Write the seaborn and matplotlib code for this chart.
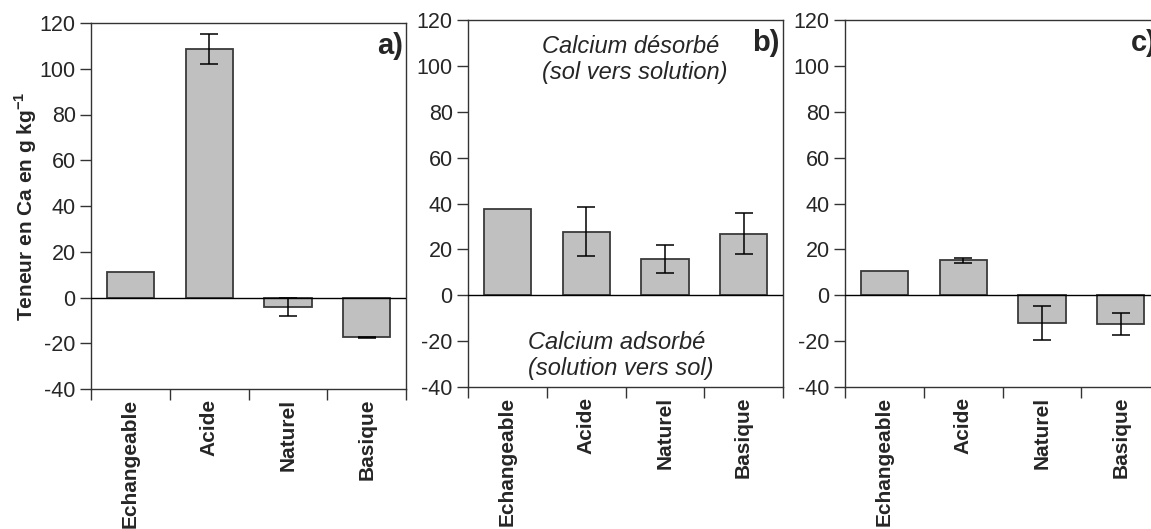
import numpy as np
import pandas as pd
import matplotlib
matplotlib.use("Agg")
import matplotlib.pyplot as plt
import seaborn as sns

categories = ["Echangeable", "Acide", "Naturel", "Basique"]
values_a = [11.0, 108.6, -4.0, -17.4]
errors_a = [0.0, 6.5, 4.0, 0.3]
values_b = [37.8, 27.6, 15.8, 26.9]
errors_b = [0.0, 10.7, 6.0, 8.8]
values_c = [10.5, 15.2, -12.1, -12.6]
errors_c = [0.0, 1.2, 7.5, 4.8]
panel_labels = ["a)", "b)", "c)"]
yticks = [-40, -20, 0, 20, 40, 60, 80, 100, 120]
ylabel = "Teneur en Ca en g kg$^{\\mathbf{-1}}$"
note_top = "Calcium désorbé\n(sol vers solution)"
note_bottom = "Calcium adsorbé\n(solution vers sol)"

sns.set_style("ticks")
plt.rcParams["font.family"] = ["Liberation Sans", "DejaVu Sans"]
plt.rcParams["mathtext.fontset"] = "custom"
plt.rcParams["mathtext.rm"] = "Liberation Sans"
plt.rcParams["mathtext.bf"] = "Liberation Sans:bold"

fig = plt.figure(figsize=(11.51, 5.29), dpi=100)
W, H = 1151.0, 529.0
positions = [
    (91 / W, 1 - 389 / H, 315 / W, 366 / H),
    (468 / W, 1 - 387 / H, 315 / W, 367 / H),
    (845 / W, 1 - 387 / H, 315 / W, 367 / H),
]
series = [(values_a, errors_a), (values_b, errors_b), (values_c, errors_c)]

axes = []
for i, (pos, (vals, errs)) in enumerate(zip(positions, series)):
    ax = fig.add_axes(pos)
    axes.append(ax)
    df = pd.DataFrame({"cat": categories, "val": vals, "err": errs})
    sns.barplot(data=df, x="cat", y="val", color="#c0c0c0", saturation=1,
                edgecolor="#3a3a3a", linewidth=1.3, width=0.6, ax=ax)
    xs = np.arange(len(categories))
    mask = df["err"].to_numpy() > 0
    ax.errorbar(xs[mask], df["val"].to_numpy()[mask], yerr=df["err"].to_numpy()[mask],
                fmt="none", ecolor="black", elinewidth=1.1, capsize=6.5, capthick=1.1)
    ax.axhline(0, color="black", lw=1.0, zorder=3)
    ax.set_ylim(-40, 120)
    ax.set_xlim(-0.5, 3.5)
    ax.set_yticks(yticks)
    ax.set_yticklabels([str(t) for t in yticks], fontsize=15.5)
    ax.set_xticks([-0.5, 0.5, 1.5, 2.5, 3.5])
    ax.set_xticklabels([])
    ax.set_xticks(xs, minor=True)
    ax.set_xticklabels(categories, minor=True, rotation=90, fontsize=15,
                       fontweight="bold", va="top", ha="center")
    ax.tick_params(axis="x", which="major", direction="out", length=8, width=1, color="#333333")
    ax.tick_params(axis="x", which="minor", length=0, pad=7)
    ax.tick_params(axis="y", direction="out", length=8, width=1, color="#333333", pad=3)
    for s in ax.spines.values():
        s.set_visible(True)
        s.set_color("#333333")
        s.set_linewidth(1.0)
    ax.set_xlabel("")
    ax.set_ylabel("")
    ax.text(0.99, 0.975, panel_labels[i], transform=ax.transAxes, ha="right", va="top",
            fontsize=21, fontweight="bold")

axes[0].set_ylabel(ylabel, fontsize=15, fontweight="bold")
axes[0].yaxis.set_label_coords(-0.165, 0.5)

axes[1].text(0.436, 113.5, note_top, ha="left", va="top", fontsize=17, style="italic",
             linespacing=1.15)
axes[1].text(0.266, -15.5, note_bottom, ha="left", va="top", fontsize=17, style="italic",
             linespacing=1.15)

fig.savefig("out.png", dpi=100)
